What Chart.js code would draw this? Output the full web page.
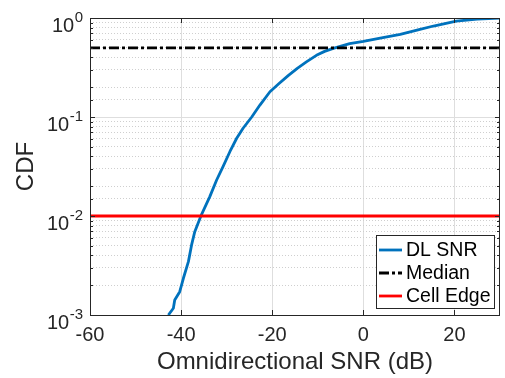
<!DOCTYPE html>
<html>
<head>
<meta charset="utf-8">
<script src="https://cdn.jsdelivr.net/npm/chart.js@4.4.0/dist/chart.umd.min.js"></script>
<style>
  html, body { margin: 0; padding: 0; background: #fff; }
</style>
</head>
<body>
<canvas id="cdfChart" width="505" height="378"></canvas>
<script>
// values
const snrDb = [-42.8, -41.7, -41.4, -40.3, -39.5, -38.4, -37.7, -37.0, -35.7, -33.7,
               -32.2, -30.8, -29.3, -27.8, -26.4, -24.5, -22.7, -20.5, -18.5, -16.5,
               -14.5, -12.5, -10.3, -8.5, -6.6, -3.0, 0, 4, 8.1, 12,
               15.4, 20.4, 25, 30];
const cdfVals = [0.001, 0.00117, 0.00142, 0.00172, 0.00235, 0.00346, 0.0051, 0.00695, 0.0099, 0.0157,
                 0.0231, 0.0315, 0.0446, 0.061, 0.077, 0.1, 0.132, 0.18, 0.218, 0.262,
                 0.31, 0.36, 0.42, 0.46, 0.494, 0.55, 0.58, 0.63, 0.684, 0.76,
                 0.83, 0.93, 0.975, 1.0];
const medianLevel = 0.5;
const cellEdgeLevel = 0.01;
const xRange = [-60, 30];
const xTicks = [-60, -40, -20, 0, 20];
const yRange = [0.001, 1];
const seriesNames = ['DL SNR', 'Median', 'Cell Edge'];

const TXT = '#262626';
const FONT = '"Liberation Sans", Arial, sans-serif';
const isDecade = v => Math.abs(Math.log10(v) - Math.round(Math.log10(v))) < 1e-6;

const curve = snrDb.map((v, i) => ({ x: v, y: cdfVals[i] }));
const hline = lvl => xRange.map(v => ({ x: v, y: lvl }));

// box, inward ticks, 10^n labels, legend
const axisDecor = {
  id: 'axisDecor',
  afterDraw(chart) {
    const { ctx, chartArea: a, scales: { x, y } } = chart;
    ctx.save();
    ctx.strokeStyle = TXT;
    ctx.lineWidth = 1;
    ctx.beginPath();
    x.ticks.forEach(t => {
      const px = Math.round(x.getPixelForValue(t.value)) + 0.5;
      ctx.moveTo(px, a.bottom); ctx.lineTo(px, a.bottom - 5);
      ctx.moveTo(px, a.top); ctx.lineTo(px, a.top + 5);
    });
    y.ticks.forEach(t => {
      const py = Math.round(y.getPixelForValue(t.value)) + 0.5;
      const len = isDecade(t.value) ? 5 : 3;
      ctx.moveTo(a.left, py); ctx.lineTo(a.left + len, py);
      ctx.moveTo(a.right, py); ctx.lineTo(a.right - len, py);
    });
    ctx.stroke();
    ctx.strokeRect(Math.round(a.left) + 0.5, Math.round(a.top) + 0.5,
                   Math.round(a.right - a.left) - 1, Math.round(a.bottom - a.top));

    // y tick labels as 10 with superscript exponent
    ctx.fillStyle = TXT;
    ctx.textBaseline = 'alphabetic';
    ctx.textAlign = 'left';
    y.ticks.filter(t => isDecade(t.value)).forEach(t => {
      const py = y.getPixelForValue(t.value);
      const ex = String(Math.round(Math.log10(t.value)));
      ctx.font = '15px ' + FONT;
      const we = ctx.measureText(ex).width;
      ctx.font = '20px ' + FONT;
      const wb = ctx.measureText('10').width;
      const right = a.left - 7;
      ctx.fillText('10', right - we - wb - 0.5, py + 13.5);
      ctx.font = '15px ' + FONT;
      ctx.fillText(ex, right - we, py + 4);
    });

    // legend in lower right corner
    const lx = 376, ly = 235, lw = 118, lh = 73;
    ctx.fillStyle = '#fff';
    ctx.fillRect(lx, ly, lw, lh);
    ctx.strokeStyle = TXT;
    ctx.lineWidth = 1;
    ctx.strokeRect(lx + 0.5, ly + 0.5, lw, lh);
    ctx.font = '19.5px ' + FONT;
    ctx.textBaseline = 'middle';
    chart.data.datasets.forEach((ds, i) => {
      const ry = ly + 15 + i * 23;
      ctx.strokeStyle = ds.borderColor;
      ctx.lineWidth = ds.borderWidth;
      ctx.setLineDash(ds.borderDash || []);
      ctx.beginPath();
      ctx.moveTo(lx + 3, ry); ctx.lineTo(lx + 26, ry);
      ctx.stroke();
      ctx.setLineDash([]);
      ctx.fillStyle = '#000';
      ctx.fillText(ds.label, lx + 30, ry + 1);
    });
    ctx.restore();
  }
};

new Chart(document.getElementById('cdfChart'), {
  type: 'line',
  data: {
    datasets: [
      { label: seriesNames[0], data: curve, borderColor: '#0072BD', borderWidth: 2.8, order: 2 },
      { label: seriesNames[1], data: hline(medianLevel), borderColor: '#000000', borderWidth: 2.8,
        borderDash: [10, 3, 3, 3], order: 1 },
      { label: seriesNames[2], data: hline(cellEdgeLevel), borderColor: '#FF0000', borderWidth: 2.8, order: 0 }
    ]
  },
  options: {
    responsive: false,
    animation: false,
    devicePixelRatio: 1,
    layout: { padding: { top: 18, right: 5, left: 0, bottom: 0 } },
    elements: { point: { radius: 0 }, line: { tension: 0, borderCapStyle: 'butt', borderJoinStyle: 'round' } },
    plugins: { legend: { display: false }, tooltip: { enabled: false } },
    scales: {
      x: {
        type: 'linear',
        min: xRange[0],
        max: xRange[1],
        afterBuildTicks: s => { s.ticks = xTicks.map(v => ({ value: v })); },
        afterFit: s => { s.height = 63; },
        grid: { color: '#dedede', lineWidth: 1, drawTicks: false },
        border: { display: false },
        ticks: { color: TXT, font: { family: FONT, size: 20 }, padding: 8, maxRotation: 0 },
        title: { display: true, text: 'Omnidirectional SNR (dB)', color: TXT,
                 font: { family: FONT, size: 24 }, padding: { top: 0, bottom: 1 } }
      },
      y: {
        type: 'logarithmic',
        min: yRange[0],
        max: yRange[1],
        afterFit: s => { s.width = 90; },
        grid: {
          color: c => (c.tick && isDecade(c.tick.value)) ? '#dedede' : '#cfcfcf',
          lineWidth: 1,
          drawTicks: false
        },
        border: { display: false, dash: c => (c.tick && !isDecade(c.tick.value)) ? [1, 2] : [] },
        ticks: { display: false },
        title: { display: true, text: 'CDF', color: TXT,
                 font: { family: FONT, size: 24 }, padding: { top: 12, bottom: 0 } }
      }
    }
  },
  plugins: [axisDecor]
});
</script>
</body>
</html>
